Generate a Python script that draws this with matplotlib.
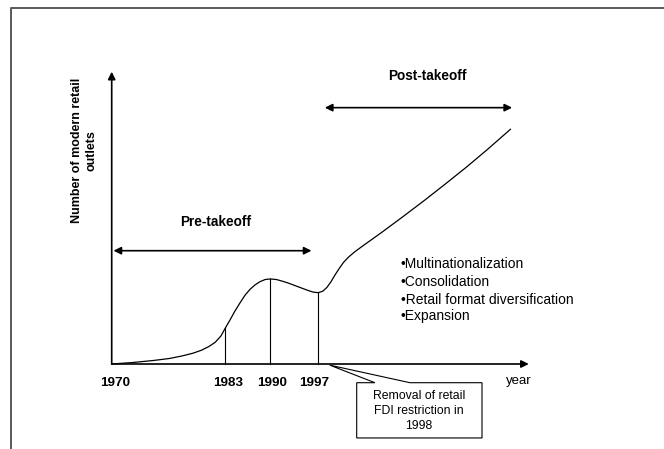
import matplotlib
matplotlib.use("Agg")
import matplotlib.pyplot as plt
from matplotlib.lines import Line2D
from matplotlib.patches import Polygon

plt.rcParams['font.family'] = ['Liberation Sans', 'DejaVu Sans']

# ---- data (schematic units) ----
curve_x = [0, 5, 10, 13.9, 17, 19.5, 21.5, 23.2, 24.8, 26.2, 27.2, 28.3, 29.5, 30.8,
           32.0, 33.2, 34.4, 35.6, 36.8, 38, 39.5, 41, 42.5, 44, 45.5, 47, 48.3,
           49.5, 50.6, 51.6, 52.6, 53.6, 54.6, 55.6, 56.8, 58.2, 60, 65, 70, 75,
           80, 85, 90, 95.6]
curve_y = [0, 0.5, 1.2, 1.9, 2.8, 3.7, 4.7, 5.9, 7.4, 9.6, 12.2, 14.9, 18.0, 21.0,
           23.6, 25.6, 27.1, 28.2, 28.9, 29.1, 28.9, 28.3, 27.6, 26.8, 26.0, 25.2, 24.6,
           24.4, 24.9, 26.2, 28.2, 30.6, 32.8, 34.8, 36.6, 38.3, 40.2, 45.3, 50.6, 56.0,
           61.6, 67.3, 73.3, 80.3]

year_labels = ["1970", "1983", "1990", "1997"]
year_label_x = [0.8, 27.9, 38.4, 48.5]
drop_x = [27.2, 38.0, 49.5]
drop_y = [12.2, 29.1, 24.4]

bullets = ["•Multinationalization", "•Consolidation",
           "•Retail format diversification", "•Expansion"]
bullet_y = [34.1, 27.95, 21.9, 16.4]

box_lines = "Removal of retail\nFDI restriction in\n1998"

W, H = 664, 449
fig = plt.figure(figsize=(W / 100, H / 100), dpi=100)
left_px, right_px, top_px, bottom_px = 111.7, 528.8, 71.7, 364.0
ax = fig.add_axes([left_px / W, 1 - bottom_px / H,
                   (right_px - left_px) / W, (bottom_px - top_px) / H])
ax.set_xlim(0, 100)
ax.set_ylim(0, 100)
ax.axis('off')

# outer frame (top and left)
fig.add_artist(Line2D([11 / W, 11 / W, 1], [0, 1 - 8 / H, 1 - 8 / H],
                      transform=fig.transFigure, color='#5a5a5a', lw=1.4))

arrow_kw = dict(arrowstyle='-|>', color='black', lw=1.2, mutation_scale=11,
                shrinkA=0, shrinkB=0)
# axes arrows
ax.annotate('', xy=(0, 100), xytext=(0, 0), arrowprops=arrow_kw, annotation_clip=False)
ax.annotate('', xy=(100, 0), xytext=(0, 0), arrowprops=arrow_kw, annotation_clip=False)

# curve
ax.plot(curve_x, curve_y, color='black', lw=0.9, clip_on=False)
# drop lines
for x, y in zip(drop_x, drop_y):
    ax.plot([x, x], [0, y], color='black', lw=0.8, clip_on=False)

# year labels
for lab, x in zip(year_labels, year_label_x):
    ax.text(x, -6.4, lab, ha='center', va='center', fontsize=9.7,
            fontweight='bold')
ax.text(97.65, -5.7, "year", ha='center', va='center', fontsize=9.5)

# phase arrows
darr = dict(arrowstyle='<|-|>', color='black', lw=1.2, mutation_scale=11,
            shrinkA=0, shrinkB=0)
ax.annotate('', xy=(47.9, 38.76), xytext=(0.43, 38.76), arrowprops=darr,
            annotation_clip=False)
ax.annotate('', xy=(96.0, 87.7), xytext=(51.1, 87.7), arrowprops=darr,
            annotation_clip=False)
ax.text(25.0, 48.7, "Pre-takeoff", ha='center', va='center', fontsize=9.8,
        fontweight='bold')
ax.text(75.6, 98.6, "Post-takeoff", ha='center', va='center', fontsize=9.8,
        fontweight='bold', clip_on=False)

# bullets
for b, y in zip(bullets, bullet_y):
    ax.text(69.3, y, b, ha='left', va='center', fontsize=10)

# callout box
poly = Polygon([(58.74, -6.4), (63.1, -6.4), (52.3, -0.4), (71.5, -6.4),
                (88.78, -6.4), (88.78, -25.3), (58.74, -25.3)], closed=True,
               facecolor='white', edgecolor='black', lw=0.8, clip_on=False)
ax.add_patch(poly)
ax.text(73.7, -16.1, box_lines, ha='center', va='center', fontsize=8.8,
        linespacing=1.3, clip_on=False)

# y label
fig.text(84 / W, 1 - 150.5 / H, "Number of modern retail\noutlets",
         rotation=90, ha='center', va='center', fontsize=9, fontweight='bold',
         multialignment='center', linespacing=1.25)

fig.savefig("out.png", dpi=100)
